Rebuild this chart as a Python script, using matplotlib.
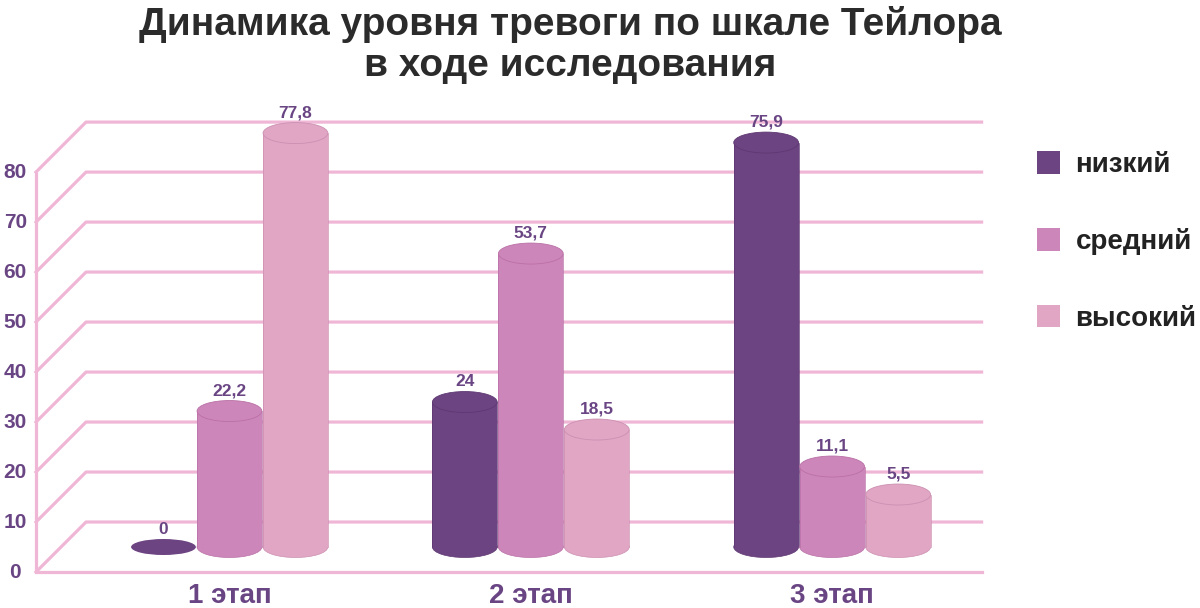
import numpy as np
import matplotlib
matplotlib.use('Agg')
import matplotlib.pyplot as plt
from matplotlib.patches import Rectangle, Ellipse, Patch

plt.rcParams['font.family'] = ['Liberation Sans', 'DejaVu Sans']
plt.rcParams['font.weight'] = 'bold'

# Data
stages = ['1 этап', '2 этап', '3 этап']
levels = ['низкий', 'средний', 'высокий']
low = [0, 24, 75.9]
mid = [22.2, 53.7, 11.1]
high = [77.8, 18.5, 5.5]
yticks = [0, 10, 20, 30, 40, 50, 60, 70, 80]

colors = ['#6d4482', '#cd86ba', '#e0a6c4']
edge_cols = ['#5e3872', '#b970a6', '#cc8fb1']
grid_col = '#f0b6d6'
label_col = '#6a4584'

# pseudo-3D geometry (in data units)
depth_x = 0.166      # horizontal shift of the back wall
depth_y = 10.0       # vertical shift of the back wall
bar_w = 0.215
step = 0.219
ell_h = 4.2          # height of cylinder caps
base = -5.0          # floor at mid depth
x_left, x_right = -0.642, 2.496

fig = plt.figure(figsize=(12, 6.08), dpi=100)
ax = fig.add_axes([0.03, 0.0592, 0.788, 0.740])
ax.set_xlim(x_left, x_right)
ax.set_ylim(-depth_y, 80)
ax.axis('off')

# wall and grid
lw = 2.3
ax.plot([x_left, x_left], [-depth_y, 80 - depth_y], color=grid_col, lw=lw, solid_capstyle='butt', clip_on=False)
ax.plot([x_left, x_right], [-depth_y, -depth_y], color=grid_col, lw=lw, clip_on=False)
for v in yticks:
    ax.plot([x_left, x_left + depth_x, x_right], [v - depth_y, v, v],
            color=grid_col, lw=lw, clip_on=False, zorder=1)
    ax.text(-0.711, v - depth_y, str(v), ha='center', va='center',
            fontsize=15, color=label_col, clip_on=False)

series = [low, mid, high]
for si, vals in enumerate(series):
    for gi, v in enumerate(vals):
        xc = gi + (si - 1) * step
        z = 3 + si
        if v == 0:
            ax.add_patch(Ellipse((xc, base), bar_w, 3.2, facecolor=colors[si],
                                 edgecolor='none', zorder=z))
            top_edge = base + 1.6
        else:
            ax.add_patch(Ellipse((xc, base), bar_w, ell_h, facecolor=colors[si],
                                 edgecolor=edge_cols[si], lw=0.5, zorder=z))
            ax.add_patch(Rectangle((xc - bar_w / 2, base), bar_w, v - base,
                                   facecolor=colors[si], edgecolor='none', zorder=z))
            ax.plot([xc - bar_w / 2, xc - bar_w / 2], [base, v], color=edge_cols[si], lw=0.5, zorder=z)
            ax.plot([xc + bar_w / 2, xc + bar_w / 2], [base, v], color=edge_cols[si], lw=0.5, zorder=z)
            ax.add_patch(Ellipse((xc, v), bar_w, ell_h, facecolor=colors[si],
                                 edgecolor=edge_cols[si], lw=0.6, zorder=z + 0.1))
            top_edge = v + ell_h / 2
        ax.text(xc, top_edge + 2.0, f'{v:g}'.replace('.', ','), ha='center', va='center',
                fontsize=12.5, color=label_col, zorder=10)

for gi, s in enumerate(stages):
    ax.text(gi, -14.8, s, ha='center', va='center', fontsize=20,
            color=label_col, clip_on=False)

fig.text(0.475, 0.926, 'Динамика уровня тревоги по шкале Тейлора\nв ходе исследования',
         ha='center', va='center', fontsize=28, color='#2b2b2b', linespacing=1.15)

handles = [Patch(facecolor=c, edgecolor='none') for c in colors]
fig.legend(handles, levels, loc='upper left', bbox_to_anchor=(0.843, 0.792),
           frameon=False, fontsize=20, handlelength=0.85, handleheight=0.85,
           handletextpad=0.55, labelspacing=1.8, labelcolor='#222222')

fig.savefig('out.png', dpi=100, facecolor='white')
